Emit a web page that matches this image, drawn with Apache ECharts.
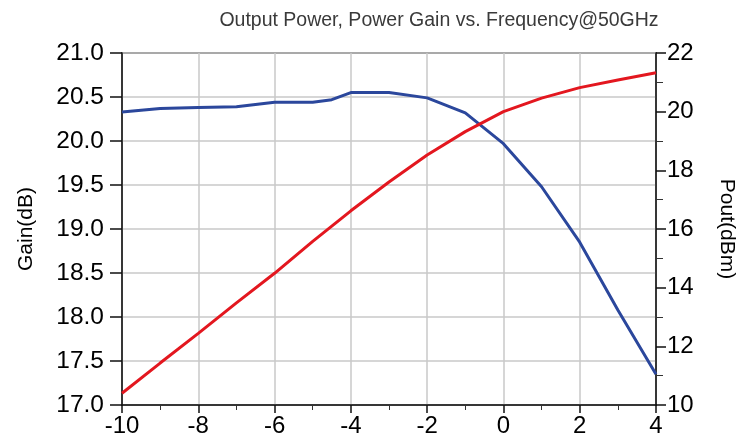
<!DOCTYPE html>
<html>
<head>
<meta charset="utf-8">
<script src="https://cdn.jsdelivr.net/npm/echarts@6/dist/echarts.min.js"></script>
<style>
html,body{margin:0;padding:0;background:#fff;}
#c{width:745px;height:445px;}
</style>
</head>
<body>
<div id="c"></div>
<script>
const inputPower = [-10, -9, -8, -7, -6, -5, -4.5, -4, -3, -2, -1, 0, 1, 2, 3, 4];
const gainDb = [20.33, 20.37, 20.38, 20.39, 20.44, 20.44, 20.47, 20.55, 20.55, 20.49, 20.32, 19.97, 19.48, 18.85, 18.08, 17.35];
const poutDbm = [10.4, 11.43, 12.44, 13.48, 14.49, 15.58, 16.1, 16.62, 17.6, 18.52, 19.32, 20.0, 20.46, 20.82, 21.08, 21.33];
const xTicks = [-10, -8, -6, -4, -2, 0, 2, 4];

const gainData = inputPower.map((x, i) => [x, gainDb[i]]);
const poutData = inputPower.map((x, i) => [x, poutDbm[i]]);

const font = 'Liberation Sans, Arial, sans-serif';
const chart = echarts.init(document.getElementById('c'), null, {renderer: 'canvas'});
chart.setOption({
  animation: false,
  backgroundColor: '#fff',
  title: {
    text: 'Output Power, Power Gain vs. Frequency@50GHz',
    left: 434, top: 6, textAlign: 'center',
    textStyle: {fontFamily: font, fontSize: 19.5, fontWeight: 'normal', color: '#3a3a3a'}
  },
  grid: {left: 122, right: 89, top: 53, bottom: 40, show: true, borderColor: '#111', borderWidth: 1.5,
         containLabel: false, outerBoundsMode: 'none'},
  xAxis: {
    type: 'value', min: -10, max: 4, interval: 2,
    axisLine: {show: true, onZero: false, lineStyle: {color: '#111', width: 1.5}},
    axisTick: {show: true, length: 8, lineStyle: {color: '#111', width: 1.5}},
    minorTick: {show: true, splitNumber: 2, length: 5, lineStyle: {color: '#333', width: 1}},
    axisLabel: {fontFamily: font, fontSize: 24, color: '#000', margin: 9},
    splitLine: {show: true, lineStyle: {color: '#c8c8c8', width: 1.5}}
  },
  yAxis: [
    {
      type: 'value', min: 17, max: 21, interval: 0.5,
      name: 'Gain(dB)', nameLocation: 'middle', nameGap: 85,
      nameTextStyle: {fontFamily: font, fontSize: 21, color: '#000'},
      axisLine: {show: true, onZero: false, lineStyle: {color: '#111', width: 1.5}},
      axisTick: {show: true, length: 12, lineStyle: {color: '#111', width: 1.5}},
      axisLabel: {fontFamily: font, fontSize: 24.5, color: '#000', margin: 18, formatter: v => v.toFixed(1)},
      splitLine: {show: true, lineStyle: {color: '#c8c8c8', width: 1.5}}
    },
    {
      type: 'value', min: 10, max: 22, interval: 2, position: 'right',
      name: 'Pout(dBm)', nameLocation: 'middle', nameGap: 60, nameRotate: -90,
      nameTextStyle: {fontFamily: font, fontSize: 21, color: '#000'},
      axisLine: {show: true, onZero: false, lineStyle: {color: '#111', width: 1.5}},
      axisTick: {show: true, length: 10, lineStyle: {color: '#111', width: 1.5}},
      minorTick: {show: true, splitNumber: 2, length: 7, lineStyle: {color: '#333', width: 1}},
      axisLabel: {fontFamily: font, fontSize: 24, color: '#000', margin: 11},
      splitLine: {show: false}
    }
  ],
  series: [
    {
      name: 'Gain', type: 'line', yAxisIndex: 0, data: gainData,
      showSymbol: false, lineStyle: {color: '#2b479c', width: 3}
    },
    {
      name: 'Pout', type: 'line', yAxisIndex: 1, data: poutData,
      showSymbol: false, lineStyle: {color: '#e3171f', width: 3}
    }
  ]
});
</script>
</body>
</html>
